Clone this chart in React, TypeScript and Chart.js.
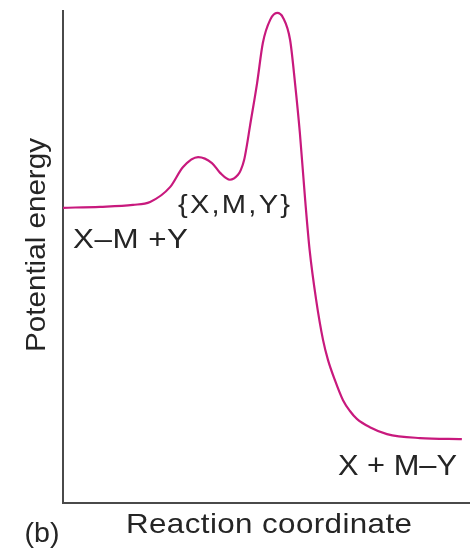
import React, { useEffect, useRef } from "react";
import { Chart, registerables } from "chart.js";

Chart.register(...registerables);

// Reaction coordinate (arbitrary units, 0–100)
const reactionCoord = [0, 9.1, 17.2, 21.4, 26.3, 29.5, 33.2, 36.6, 38.6, 41.0, 43.0, 43.7, 44.5, 45.2, 45.9, 47.7, 49.1, 50.9, 52.6, 54.1, 55.8, 57.0, 58.2, 59.5, 60.6, 62.2, 63.9, 65.1, 66.8, 68.8, 70.5, 72.2, 75.4, 79.6, 87.7, 98.0];
// Potential energy (arbitrary units, 0–100)
const potentialEnergy = [60.0, 60.2, 60.6, 61.2, 64.2, 68.3, 70.3, 69.1, 67.1, 65.7, 66.7, 67.7, 69.7, 72.8, 76.4, 85.4, 93.5, 98.2, 99.6, 98.6, 94.1, 85.4, 75.2, 61.6, 51.4, 41.3, 33.1, 29.1, 25.0, 20.9, 18.7, 17.1, 15.4, 14.0, 13.2, 13.0];

const xTitle = "Reaction coordinate";
const yTitle = "Potential energy";
const panelLabel = "(b)";
const reactantLabel = "X–M +Y";
const intermediateLabel = "{X,M,Y}";
const productLabel = "X + M–Y";

const TEXT_COLOR = "#252525";
const FONT = "Liberation Sans, Arial, Helvetica, sans-serif";

// draws text whose overall width is fitted to `width` (slight horizontal stretch + tracking)
function drawText(
  ctx: CanvasRenderingContext2D,
  text: string,
  cx: number,
  y: number,
  size: number,
  width: number
) {
  ctx.save();
  ctx.font = `${size}px ${FONT}`;
  ctx.fillStyle = TEXT_COLOR;
  ctx.textBaseline = "alphabetic";
  ctx.textAlign = "left";
  const natural = ctx.measureText(text).width;
  const sx = Math.max(1, Math.min(width / natural, 1.12));
  const n = Array.from(text).length;
  const spacing = n > 1 ? Math.max(0, (width - natural * sx) / (n - 1) / sx) : 0;
  (ctx as any).letterSpacing = `${spacing}px`;
  ctx.translate(cx - width / 2, y);
  ctx.scale(sx, 1);
  ctx.fillText(text, 0, 0);
  ctx.restore();
}

const labelsPlugin = {
  id: "labelsPlugin",
  afterDraw(chart: any) {
    const ctx: CanvasRenderingContext2D = chart.ctx;
    const area = chart.chartArea;
    // axis titles
    drawText(ctx, xTitle, 269, area.bottom + 30, 28, 286);
    drawText(ctx, panelLabel, 42, area.bottom + 39, 28, 35);
    ctx.save();
    ctx.translate(45, 245);
    ctx.rotate(-Math.PI / 2);
    drawText(ctx, yTitle, 0, 0, 28, 214);
    ctx.restore();
    // state annotations
    drawText(ctx, reactantLabel, 130.5, 248, 28, 115);
    drawText(ctx, intermediateLabel, 234, 213, 26, 112);
    drawText(ctx, productLabel, 397.5, 475, 29, 119);
  },
};

export default function App() {
  const canvasRef = useRef<HTMLCanvasElement | null>(null);

  useEffect(() => {
    const canvas = canvasRef.current;
    if (!canvas) return;
    const chart = new Chart(canvas, {
      type: "line",
      data: {
        datasets: [
          {
            data: reactionCoord.map((x, i) => ({ x, y: potentialEnergy[i] })),
            borderColor: "#c8197d",
            borderWidth: 2.2,
            pointRadius: 0,
            cubicInterpolationMode: "monotone",
            fill: false,
            clip: false,
          },
        ],
      },
      options: {
        responsive: false,
        animation: false,
        layout: { padding: { left: 63, right: 0, top: 11, bottom: 45 } },
        plugins: {
          legend: { display: false },
          tooltip: { enabled: false },
          title: { display: false },
        },
        scales: {
          x: {
            type: "linear",
            min: 0,
            max: 100,
            ticks: { display: false },
            grid: { display: false, drawTicks: false },
            border: { display: true, color: "#4a4a4a", width: 2 },
          },
          y: {
            type: "linear",
            min: 0,
            max: 100,
            ticks: { display: false },
            grid: { display: false, drawTicks: false },
            border: { display: true, color: "#4a4a4a", width: 2 },
          },
        },
      },
      plugins: [labelsPlugin],
    });
    return () => chart.destroy();
  }, []);

  return (
    <div style={{ position: "fixed", left: 0, top: 0, width: 470, height: 548, background: "#fff" }}>
      <canvas ref={canvasRef} width={470} height={548} style={{ display: "block" }} />
    </div>
  );
}
